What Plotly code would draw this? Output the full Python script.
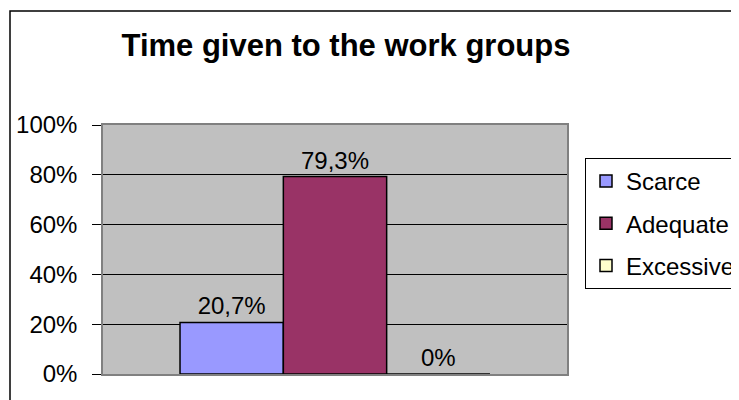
import plotly.graph_objects as go

# Data
series_names = ["Scarce", "Adequate", "Excessive"]
series_values = [0.207, 0.793, 0.0]
series_colors = ["#9999FF", "#993366", "#FFFFCC"]
category = [""]
title_text = "Time given to the work groups"


def pct_label(v):
    p = round(v * 100, 1)
    if p == int(p):
        return f"{int(p)}%"
    return f"{p:.1f}".replace(".", ",") + "%"


FONT = "Liberation Sans, Arial, sans-serif"

fig = go.Figure()
for name, val, col in zip(series_names, series_values, series_colors):
    fig.add_trace(go.Bar(
        name=name,
        x=category,
        y=[val],
        marker=dict(color=col, line=dict(color="black", width=1.5)),
        text=[pct_label(val)],
        textposition="outside",
        textfont=dict(family=FONT, size=24, color="black"),
        cliponaxis=False,
        legendgroup=name,
        hoverinfo="skip",
    ))

# page body has an 8px margin: build figure in reference coords shifted by -8
OFF = 8
W, H = 739 - OFF, 400 - OFF
ml, mr, mt, mb = 103 - OFF, 739 - 567, 125 - OFF, 400 - 374
pw = W - ml - mr
ph = H - mt - mb

fig.update_layout(
    width=W, height=H,
    margin=dict(l=ml, r=mr, t=mt, b=mb, autoexpand=False),
    paper_bgcolor="white",
    plot_bgcolor="#C0C0C0",
    barmode="group",
    bargap=0.332,
    bargroupgap=0,
    font=dict(family=FONT, size=24, color="black"),
    title=dict(
        text=f"<b>{title_text}</b>",
        font=dict(family=FONT, size=31, color="black"),
        x=(346 - OFF) / W, xanchor="center", xref="container",
        y=1 - (45 - OFF) / H, yanchor="middle", yref="container",
    ),
    showlegend=True,
    legend=dict(
        x=(585 - 103) / pw, xanchor="left",
        y=(374 - 158) / ph, yanchor="top",
        bordercolor="black", borderwidth=1,
        bgcolor="white",
        font=dict(family=FONT, size=24, color="black"),
        tracegroupgap=8,
        traceorder="grouped",
    ),
    xaxis=dict(
        showticklabels=False,
        showgrid=False,
        showline=True, linecolor="#808080", linewidth=1.5, mirror=True,
        ticks="",
        fixedrange=True,
    ),
    yaxis=dict(
        range=[0, 1],
        dtick=0.2,
        tickformat=".0%",
        showgrid=True, gridcolor="black", gridwidth=1,
        zeroline=False,
        showline=True, linecolor="#808080", linewidth=1.5, mirror=True,
        ticks="outside", ticklen=9, tickcolor="black", tickwidth=1,
        ticklabelstandoff=10,
        tickfont=dict(family=FONT, size=24, color="black"),
        fixedrange=True,
    ),
    shapes=[dict(
        type="rect", xref="paper", yref="paper",
        x0=(10 - 103) / pw, x1=2.0,
        y0=-1.0, y1=(374 - 11) / ph,
        line=dict(color="black", width=1.5),
        fillcolor="rgba(0,0,0,0)",
        layer="below",
    )],
)

fig.write_html("out.html")
